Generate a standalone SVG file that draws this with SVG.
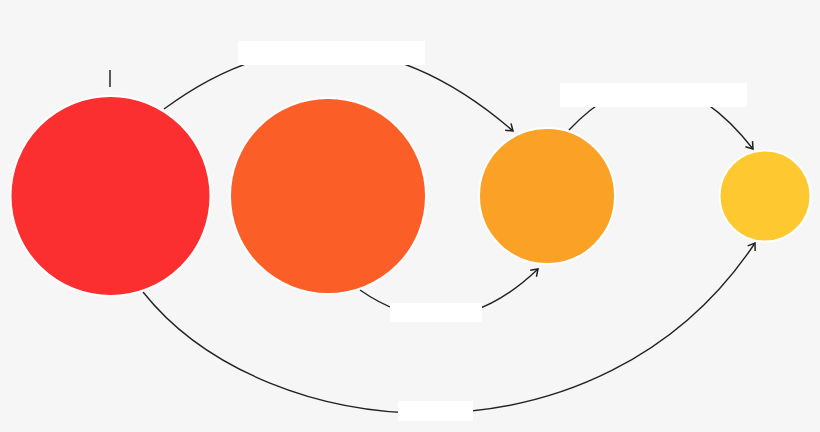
<svg xmlns="http://www.w3.org/2000/svg" width="820" height="432" viewBox="0 0 820 432">
  <style>
    .node { stroke: #ffffff; stroke-width: 2; }
    .conn { fill: none; stroke: #222222; stroke-width: 1.4; marker-end: url(#arrow); }
    .tick { stroke: #333333; stroke-width: 1.6; }
    .label { fill: #ffffff; }
  </style>
  <defs>
    <marker id="arrow" markerUnits="userSpaceOnUse" viewBox="-8 -6 10 12" refX="0" refY="0" markerWidth="10" markerHeight="12" orient="auto" overflow="visible">
      <path d="M-6.5,-4.5 L0,0 L-6.5,4.5" fill="none" stroke="#222222" stroke-width="1.5" stroke-linejoin="miter"/>
    </marker>
  </defs>
  <rect width="820" height="432" fill="#f6f6f6"/>

  <g id="connectors">
    <path class="conn" d="M164,109 Q338,-20 513,131"/>
    <path class="conn" d="M569,130 Q661,32 753,149"/>
    <path class="conn" d="M360,290 Q450,353 538,269"/>
    <path class="conn" d="M143,292 C267,448 601,475 755,243"/>
  </g>

  <g id="node-1">
    <circle class="node" cx="110.5" cy="196" r="100" fill="#fb2f2f"/>
    <line class="tick" x1="110" y1="70" x2="110" y2="87"/>
  </g>
  <g id="node-2">
    <circle class="node" cx="328" cy="196" r="98" fill="#fb5e26"/>
  </g>
  <g id="node-3">
    <circle class="node" cx="547" cy="196" r="68" fill="#fba226"/>
  </g>
  <g id="node-4">
    <circle class="node" cx="765" cy="196" r="45.5" fill="#fec830"/>
  </g>

  <g id="labels">
    <rect class="label" x="238" y="41" width="187" height="24"/>
    <rect class="label" x="560" y="83" width="187" height="24"/>
    <rect class="label" x="390" y="303" width="92" height="19"/>
    <rect class="label" x="398" y="401" width="75" height="20"/>
  </g>
</svg>
